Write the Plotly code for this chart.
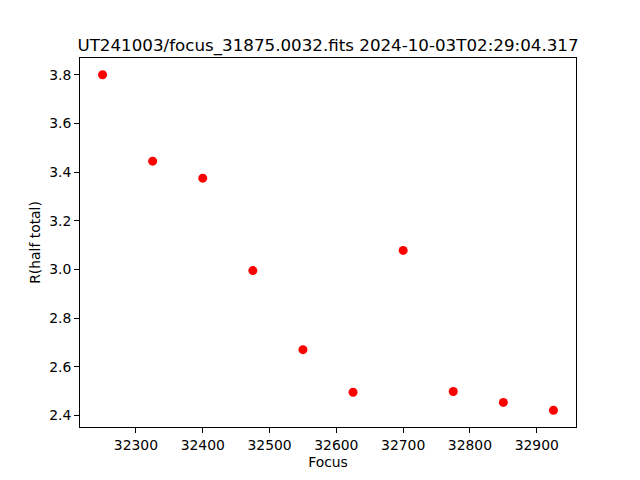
import plotly.graph_objects as go

focus = [32250, 32325, 32400, 32475, 32550, 32625, 32700, 32775, 32850, 32925]
r_half = [3.80, 3.445, 3.375, 2.995, 2.67, 2.495, 3.078, 2.498, 2.453, 2.421]
title = "UT241003/focus_31875.0032.fits 2024-10-03T02:29:04.317"
x_ticks = [32300, 32400, 32500, 32600, 32700, 32800, 32900]
y_ticks = [2.4, 2.6, 2.8, 3.0, 3.2, 3.4, 3.6, 3.8]

fig = go.Figure()
fig.add_trace(go.Scatter(x=focus, y=r_half, mode="markers",
                         marker=dict(color="red", size=9, line=dict(width=0))))

xr = max(focus) - min(focus)
yr = max(r_half) - min(r_half)
font = dict(family="DejaVu Sans", size=13.9, color="black")
axis_common = dict(showline=True, linecolor="black", linewidth=1, mirror=True,
                   ticks="outside", ticklen=4.9, tickwidth=1, tickcolor="black",
                   showgrid=False, zeroline=False, tickfont=font, automargin=False)
fig.update_layout(
    width=632, height=472,
    margin=dict(l=72, r=64, t=50, b=53),
    paper_bgcolor="white", plot_bgcolor="white",
    showlegend=False,
    font=font,
    title=dict(text=title, x=0.5, xref="paper", xanchor="center",
               y=1, yref="paper", yanchor="bottom", pad=dict(b=7), automargin=False,
               font=dict(family="DejaVu Sans", size=16.7, color="black")),
    xaxis=dict(range=[min(focus) - 0.05 * xr, max(focus) + 0.05 * xr],
               tickmode="array", tickvals=x_ticks, ticktext=[str(v) for v in x_ticks],
               title=dict(text="Focus", font=font, standoff=5), **axis_common),
    yaxis=dict(range=[min(r_half) - 0.05 * yr, max(r_half) + 0.05 * yr],
               tickmode="array", tickvals=y_ticks, ticktext=[f"{v:.1f}" for v in y_ticks],
               title=dict(text="R(half total)", font=font, standoff=5), **axis_common),
)
fig.write_html("out.html")
